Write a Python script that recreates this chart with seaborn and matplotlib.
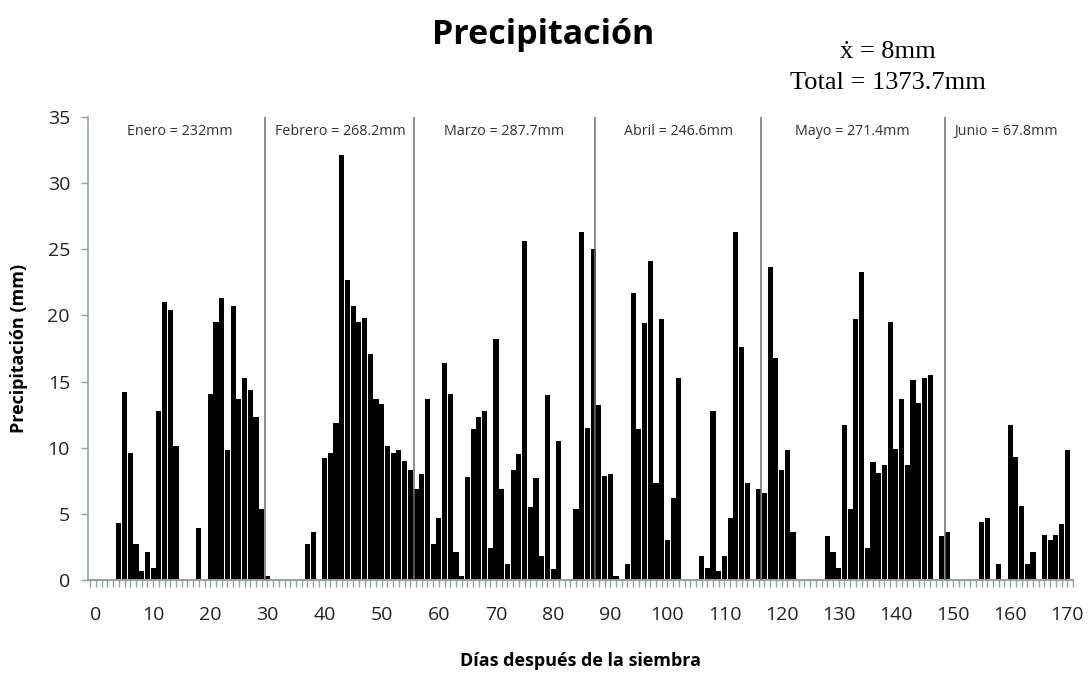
import matplotlib
matplotlib.use("Agg")
import matplotlib.pyplot as plt
from matplotlib.ticker import MultipleLocator
import seaborn as sns
import pandas as pd

# Daily precipitation (mm), days after sowing 0..170
dias = list(range(0, 171))
precip = [
    0, 0, 0, 0, 4.3, 14.2, 9.6, 2.7, 0.7, 2.1,            # 0-9
    0.9, 12.8, 21.0, 20.4, 10.1, 0, 0, 0, 3.9, 0,         # 10-19
    14.1, 19.5, 21.3, 9.8, 20.7, 13.7, 15.3, 14.4, 12.3, 5.4,  # 20-29
    0.3, 0, 0, 0, 0, 0, 0, 2.75, 3.6, 0,                  # 30-39
    9.2, 9.6, 11.9, 32.1, 22.7, 20.7, 19.5, 19.8, 17.1, 13.7,  # 40-49
    13.3, 10.1, 9.6, 9.8, 9.0, 8.3, 6.9, 8.0, 13.7, 2.7,  # 50-59
    4.7, 16.4, 14.1, 2.1, 0.3, 7.8, 11.4, 12.3, 12.8, 2.4,  # 60-69
    18.2, 6.9, 1.2, 8.3, 9.5, 25.6, 5.5, 7.7, 1.8, 14.0,  # 70-79
    0.8, 10.5, 0, 0, 5.35, 26.3, 11.5, 25.0, 13.2, 7.9,   # 80-89
    8.0, 0.3, 0, 1.2, 21.7, 11.4, 19.4, 24.1, 7.3, 19.7,  # 90-99
    3.0, 6.2, 15.3, 0, 0, 0, 1.8, 0.9, 12.8, 0.7,         # 100-109
    1.8, 4.7, 26.3, 17.6, 7.3, 0, 6.9, 6.6, 23.7, 16.8,   # 110-119
    8.3, 9.8, 3.6, 0, 0, 0, 0, 0, 3.3, 2.1,               # 120-129
    0.9, 11.7, 5.35, 19.7, 23.3, 2.4, 8.9, 8.1, 8.7, 19.5,  # 130-139
    9.9, 13.7, 8.7, 15.1, 13.4, 15.3, 15.5, 0, 3.3, 3.6,  # 140-149
    0, 0, 0, 0, 0, 4.4, 4.7, 0, 1.2, 0,                   # 150-159
    11.7, 9.3, 5.6, 1.2, 2.1, 0, 3.4, 3.0, 3.4, 4.2,      # 160-169
    9.8,                                                  # 170
]

meses = ["Enero", "Febrero", "Marzo", "Abril", "Mayo", "Junio"]
totales_mes = ["232", "268.2", "287.7", "246.6", "271.4", "67.8"]
media = "8"
total = "1373.7"

# month boundaries and label centres (in days)
limites = [29.5, 55.6, 87.4, 116.4, 148.6]
centros = [14.7, 42.7, 71.5, 102.0, 132.3, 159.3]

sns.set_theme(style="white")
plt.rcParams['font.family'] = ['Open Sans', 'DejaVu Sans']
plt.rcParams['text.color'] = 'black'
plt.rcParams['axes.labelcolor'] = 'black'
plt.rcParams['xtick.color'] = '#222222'
plt.rcParams['ytick.color'] = '#222222'

df = pd.DataFrame({"dia": dias, "precip": precip})

fig = plt.figure(figsize=(10.91, 6.73), dpi=100)
ax = fig.add_axes([0.0807, 0.1382, 0.9028, 0.6878])

sns.barplot(data=df, x="dia", y="precip", native_scale=True, color="black",
            width=0.9, saturation=1, edgecolor="none", ax=ax)

ax.set_xlim(-1.4, 171.0)
ax.set_ylim(0, 35)

axis_col = "#8fa3a3"
for s in ["top", "right"]:
    ax.spines[s].set_visible(False)
ax.spines["left"].set_color(axis_col)
ax.spines["bottom"].set_color(axis_col)
ax.spines["left"].set_linewidth(1.2)
ax.spines["bottom"].set_linewidth(1.5)

ax.xaxis.set_major_locator(MultipleLocator(10))
ax.xaxis.set_minor_locator(MultipleLocator(1))
ax.yaxis.set_major_locator(MultipleLocator(5))
ax.tick_params(axis="x", which="both", direction="out", length=5, color=axis_col,
               width=1, labelsize=14, pad=14, bottom=True, labelcolor="#222222")
ax.tick_params(axis="y", which="major", direction="out", length=5, color=axis_col,
               width=1, labelsize=14, pad=8, left=True, labelcolor="#222222")
ax.set_xticklabels([str(int(t)) for t in ax.get_xticks()])

for x in limites:
    ax.plot([x, x], [0, 35], color="#6e6e6e", lw=1.1, zorder=3)

for c, m, t in zip(centros, meses, totales_mes):
    ax.text(c, 33.9, f"{m} = {t}mm", ha="center", va="center", fontsize=10.3,
            color="#333333")

ax.set_xlabel("Días después de la siembra", fontsize=13, fontweight="bold", labelpad=20)
ax.set_ylabel("Precipitación (mm)", fontsize=13, fontweight="bold", labelpad=14)

fig.text(0.498, 0.948, "Precipitación", ha="center", va="center", fontsize=24.5,
         fontweight="bold")
fig.text(0.814, 0.923, "ẋ = " + media + "mm", ha="center", va="center",
         fontsize=19, family=["Liberation Serif", "DejaVu Serif"])
fig.text(0.814, 0.876, "Total = " + total + "mm", ha="center", va="center",
         fontsize=19, family=["Liberation Serif", "DejaVu Serif"])

fig.savefig("out.png", dpi=100, facecolor="white")
